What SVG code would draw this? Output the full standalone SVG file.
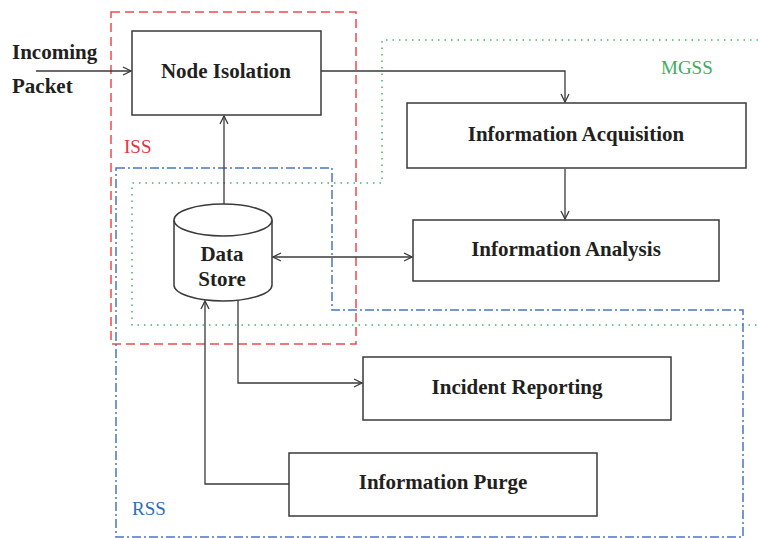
<svg xmlns="http://www.w3.org/2000/svg" width="758" height="538" viewBox="0 0 758 538">
<defs>
<style>
.box{fill:#fff;stroke:#3a3a3a;stroke-width:1.5}
.lbl{font-family:"Liberation Serif","Times New Roman",serif;font-weight:bold;font-size:21px;fill:#231f20;text-anchor:middle}
.edge{fill:none;stroke:#3a3a3a;stroke-width:1.3}
.iss{fill:none;stroke:#ee4a4f;stroke-width:1.5;stroke-dasharray:9,5}
.mgss{fill:none;stroke:#43b565;stroke-width:1.5;stroke-dasharray:1.5,5}
.rss{fill:none;stroke:#4a76c2;stroke-width:1.5;stroke-dasharray:9,3,2,3}
.zone{font-family:"Liberation Serif","Times New Roman",serif;font-size:19px}
</style>
<marker id="arr" viewBox="0 0 10 10" refX="9" refY="5" markerWidth="10" markerHeight="10" markerUnits="userSpaceOnUse" orient="auto-start-reverse">
<path d="M1,1 L9,5 L1,9" fill="none" stroke="#3a3a3a" stroke-width="1.3"/>
</marker>
</defs>
<rect width="758" height="538" fill="#fff"/>
<g id="boundaries">
<rect class="iss" x="111" y="12" width="245" height="332"/>
<path class="mgss" d="M758,40 H382 V183 H132 V325 H758"/>
<path class="rss" d="M116,168 H332 V310 H743 V537 H116 Z"/>
<text class="zone" x="124" y="153" fill="#e8333b">ISS</text>
<text class="zone" x="661" y="74" fill="#3aad5e">MGSS</text>
<text class="zone" x="132" y="515" fill="#2f6db6">RSS</text>
</g>
<g id="incoming">
<text class="lbl" x="12" y="59" style="text-anchor:start">Incoming</text>
<text class="lbl" x="12" y="93" style="text-anchor:start">Packet</text>
</g>
<g id="node-isolation">
<rect class="box" x="132" y="31" width="189" height="84"/>
<text class="lbl" x="226" y="78">Node Isolation</text>
</g>
<g id="information-acquisition">
<rect class="box" x="407" y="103" width="339" height="65"/>
<text class="lbl" x="576" y="141">Information Acquisition</text>
</g>
<g id="information-analysis">
<rect class="box" x="413" y="220" width="306" height="61"/>
<text class="lbl" x="566" y="256">Information Analysis</text>
</g>
<g id="data-store">
<path class="box" d="M174,220 V285 A49,16 0 0 0 272,285 V220 A49,16 0 0 0 174,220 Z"/>
<path class="box" d="M174,220 A49,16 0 0 0 272,220" fill="none"/>
<text class="lbl" x="222" y="261">Data</text>
<text class="lbl" x="222" y="286">Store</text>
</g>
<g id="incident-reporting">
<rect class="box" x="363" y="357" width="308" height="63"/>
<text class="lbl" x="517" y="394">Incident Reporting</text>
</g>
<g id="information-purge">
<rect class="box" x="289" y="453" width="308" height="63"/>
<text class="lbl" x="443" y="489">Information Purge</text>
</g>
<g id="connectors">
<path class="edge" d="M36,71 H131" marker-end="url(#arr)"/>
<path class="edge" d="M321,71 H565 V102" marker-end="url(#arr)"/>
<path class="edge" d="M565,169 V219" marker-end="url(#arr)"/>
<path class="edge" d="M224,204 V116" marker-end="url(#arr)"/>
<path class="edge" d="M273,257 H412" marker-start="url(#arr)" marker-end="url(#arr)"/>
<path class="edge" d="M238,300 V383 H362" marker-end="url(#arr)"/>
<path class="edge" d="M289,484 H205 V301" marker-end="url(#arr)"/>
</g>
</svg>
